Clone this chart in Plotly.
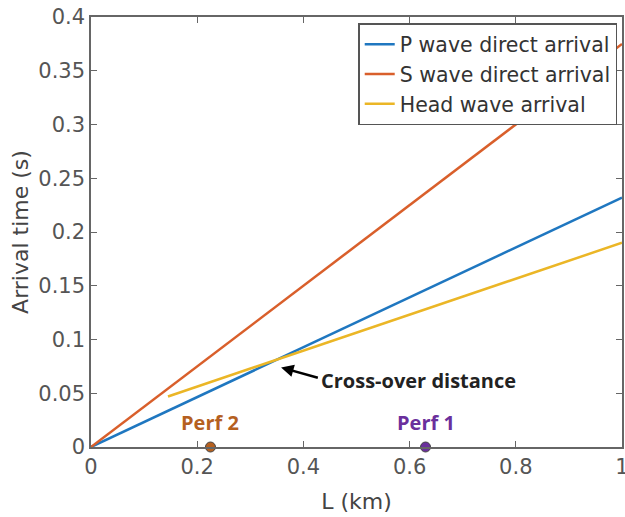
import plotly.graph_objects as go

L_direct = [0.0, 1.0]
p_wave = [0.0, 0.232]
s_wave = [0.0, 0.375]
L_head = [0.145, 1.0]
head_wave = [0.047, 0.19]
perf_x = [0.225, 0.63]
perf_y = [0.0, 0.0]
perf_names = ["Perf 2", "Perf 1"]
perf_colors = ["#b5601f", "#6a2f9c"]

fig = go.Figure()
fig.add_trace(go.Scatter(x=L_direct, y=p_wave, mode="lines", name="P wave direct arrival",
                         line=dict(color="#1f77c0", width=2.5)))
fig.add_trace(go.Scatter(x=L_direct, y=s_wave, mode="lines", name="S wave direct arrival",
                         line=dict(color="#d95f2b", width=2.5)))
fig.add_trace(go.Scatter(x=L_head, y=head_wave, mode="lines", name="Head wave arrival",
                         line=dict(color="#ebb626", width=2.5)))
fig.add_trace(go.Scatter(x=perf_x, y=perf_y, mode="markers", showlegend=False,
                         marker=dict(color=perf_colors, size=10, line=dict(color="#444", width=1)),
                         cliponaxis=False))

for x, name, c in zip(perf_x, perf_names, perf_colors):
    fig.add_annotation(x=x, y=0.023, text=f"<b>{name}</b>", showarrow=False,
                       font=dict(family="Open Sans", size=20, color=c))

fig.add_annotation(x=0.358, y=0.074, ax=0.43, ay=0.064, axref="x", ayref="y",
                   text="", showarrow=True, arrowhead=2, arrowsize=1, arrowwidth=2.5, arrowcolor="black")
fig.add_annotation(x=0.616, y=0.062, text="<b>Cross-over distance</b>", showarrow=False,
                   font=dict(family="Open Sans", size=20, color="#222"))

font_main = "DejaVu Sans"
axis_common = dict(showgrid=False, zeroline=False, showline=True, linecolor="#666", linewidth=1.5,
                   mirror="ticks", ticks="inside", ticklen=6, tickcolor="#666",
                   ticklabeloverflow="allow", automargin=False,
                   tickfont=dict(family=font_main, size=21, color="#555"))
fig.update_xaxes(range=[0, 1], tickvals=[0, 0.2, 0.4, 0.6, 0.8, 1],
                 ticktext=["0", "0.2", "0.4", "0.6", "0.8", "1"],
                 title=dict(text="L (km)", font=dict(family=font_main, size=22, color="#444"), standoff=16),
                 **axis_common)
fig.update_yaxes(range=[0, 0.4], tickvals=[0, 0.05, 0.1, 0.15, 0.2, 0.25, 0.3, 0.35, 0.4],
                 ticktext=["0", "0.05", "0.1", "0.15", "0.2", "0.25", "0.3", "0.35", "0.4"],
                 title=dict(text="Arrival time (s)", font=dict(family=font_main, size=22, color="#444"), standoff=4),
                 **axis_common)

fig.update_layout(width=625, height=517, margin=dict(l=91, r=3, t=17, b=70),
                  plot_bgcolor="white", paper_bgcolor="white",
                  legend=dict(x=0.991, y=0.986, xanchor="right", yanchor="top",
                              bgcolor="white", bordercolor="#555", borderwidth=1.5,
                              font=dict(family=font_main, size=20.5, color="#333"),
                              tracegroupgap=0, itemwidth=30))

fig.write_html("out.html")
